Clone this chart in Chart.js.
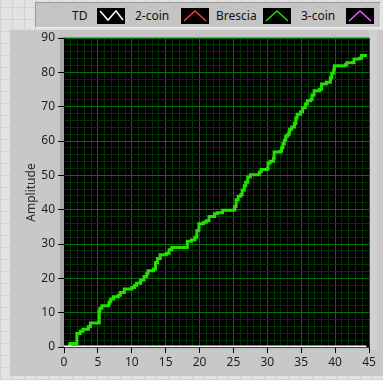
<!DOCTYPE html>
<html>
<head>
<meta charset="utf-8">
<script src="https://cdn.jsdelivr.net/npm/chart.js@4"></script>
<style>
body { margin:0; background:#e2e2e2; }
#wrap { position:relative; width:383px; height:380px; overflow:hidden;
  background-color:#e2e2e2;
  background-image:repeating-linear-gradient(0deg, #d2d2d2 0 1px, transparent 1px 12px),
                   repeating-linear-gradient(90deg, #d2d2d2 0 1px, transparent 1px 12px); }
#frame { position:absolute; left:10px; top:29px; width:373px; height:346px; background:#c8c8c8;
  border-top:1px solid #dcdcdc; }
#plotframe { position:absolute; left:60px; top:30px; width:317px; height:320px; background:#c4c4c4; }
#plotframe .l { position:absolute; left:0; top:7px; width:4px; height:310px; background:#a6a6a6; }
#plotframe .t { position:absolute; left:0; top:7px; width:310px; height:1px; background:#8a8a8a; }
#plotframe .r { position:absolute; left:309px; top:0; width:8px; height:320px; background:#d0d0d0; }
#legend { position:absolute; left:35px; top:2px; width:344px; height:24px; background:#c4c4c4;
  border-top:1px solid #9a9a9a; border-left:1px solid #9a9a9a; border-bottom:1px solid #eeeeee; border-right:1px solid #eeeeee;
  font:12px "Noto Sans", sans-serif; color:#111; }
#legend span { position:absolute; top:4px; }
#legend svg { position:absolute; top:5px; }
canvas { position:absolute; left:0; top:0; }
</style>
</head>
<body>
<div id="wrap">
  <div id="frame"></div>
  <div id="plotframe"><div class="t"></div><div class="l"></div><div class="r"></div></div>
  <div id="legend"></div>
  <canvas id="chart" width="383" height="380"></canvas>
</div>
<script>
// series names and colours as in the legend
var seriesNames = ["TD", "2-coin", "Brescia", "3-coin"];
var seriesColors = ["#ffffff", "#ff3c3c", "#22e000", "#e060ff"];

// TD and 2-coin stay at zero
var tdX = [0, 44.6];
var tdY = [0, 0];
var coin2X = [0, 44.6];
var coin2Y = [0, 0];

// Brescia step curve (x = step position, y = new level)
var bresciaX = [0.6, 0.9, 1.9, 2.4, 2.8, 3.6, 3.9, 5.2, 5.3, 5.6, 6.6, 6.7, 6.9, 7.3, 8.0, 8.3, 8.9,
  10.0, 10.4, 10.7, 11.3, 11.8, 12.2, 12.4, 13.2, 13.5, 13.8, 14.2, 15.1, 15.5, 15.9, 18.2, 18.8, 19.3,
  19.6, 19.9, 20.6, 21.0, 21.4, 22.2, 22.6, 23.4, 25.1, 25.2, 25.4, 25.7, 26.1, 26.3, 26.6, 26.8, 27.1,
  27.5, 28.8, 29.1, 30.0, 30.1, 30.4, 30.9, 31.0, 31.9, 32.1, 32.3, 32.5, 32.7, 33.0, 33.2, 33.3, 33.6,
  34.0, 34.2, 34.4, 34.9, 35.2, 35.6, 35.9, 36.4, 36.6, 36.9, 37.7, 38.0, 38.7, 39.3, 39.5, 39.8, 39.9,
  41.5, 41.7, 42.6, 42.8, 43.6, 43.9, 44.7];
var bresciaY = [0.5, 1.0, 3.9, 4.6, 5.2, 6.0, 7.0, 10.5, 11.3, 12.0, 12.6, 13.2, 14.0, 14.6, 15.1, 15.9, 16.9,
  17.3, 17.9, 18.6, 19.5, 20.5, 21.3, 22.2, 22.7, 24.6, 25.8, 26.9, 27.3, 28.3, 29.0, 30.8, 31.2, 32.0,
  33.9, 35.9, 36.3, 36.8, 38.0, 38.8, 39.1, 39.8, 40.0, 40.9, 42.9, 43.9, 44.4, 45.7, 47.0, 48.0, 49.5,
  50.2, 51.0, 51.7, 52.0, 53.6, 54.1, 54.9, 56.8, 57.0, 58.0, 59.2, 60.2, 61.4, 61.9, 62.6, 63.4, 64.1,
  65.1, 66.7, 67.8, 68.5, 69.7, 70.8, 71.7, 72.1, 73.4, 74.6, 75.1, 76.6, 77.1, 78.4, 79.7, 80.9, 81.9,
  82.2, 82.8, 82.9, 83.9, 84.1, 84.9, 84.9];

var xMax = 45, yMax = 90;

function pts(xs, ys) {
    return xs.map(function (x, i) { return {x: x, y: ys[i]}; });
}

// legend (LabVIEW style: name then plot icon)
var legendPos = [[36, 61], [99, 145], [180, 227], [265, 310]];
var legend = document.getElementById("legend");
seriesNames.forEach(function (name, i) {
    var s = document.createElement("span");
    s.textContent = name;
    s.style.left = legendPos[i][0] + "px";
    legend.appendChild(s);
    var path = i === 0 ? "M3,3 L11,12 L19,3 L26,12" : "M3,13 L14,3 L25,13";
    legend.insertAdjacentHTML("beforeend",
        '<svg width="28" height="16" style="left:' + legendPos[i][1] + 'px"><rect width="28" height="16" fill="#000"/>' +
        '<path d="' + path + '" stroke="' + seriesColors[i] + '" stroke-width="1.5" fill="none"/></svg>');
});

var blackPlot = {
    id: "blackPlot",
    beforeDraw: function (chart) {
        var a = chart.chartArea, c = chart.ctx;
        c.save();
        c.fillStyle = "#000";
        c.fillRect(a.left, a.top, a.right - a.left, a.bottom - a.top);
        c.restore();
    }
};

var tickFont = {family: "Noto Sans", size: 12};

new Chart(document.getElementById("chart"), {
    type: "line",
    data: {
        datasets: [
            {label: seriesNames[0], data: pts(tdX, tdY), borderColor: seriesColors[0], borderWidth: 3, pointRadius: 0},
            {label: seriesNames[1], data: pts(coin2X, coin2Y), borderColor: seriesColors[1], borderWidth: 1.5, pointRadius: 0},
            {label: seriesNames[2], data: pts(bresciaX, bresciaY), borderColor: seriesColors[2], borderWidth: 3,
             pointRadius: 0, stepped: true}
        ]
    },
    options: {
        responsive: false,
        animation: false,
        devicePixelRatio: 1,
        layout: {padding: {top: 38, right: 14, left: 0, bottom: 0}},
        plugins: {legend: {display: false}, tooltip: {enabled: false}},
        scales: {
            x: {
                type: "linear", min: 0, max: xMax,
                ticks: {stepSize: 1, autoSkip: false, maxRotation: 0, padding: 2, color: "#1e1e1e", font: tickFont,
                    callback: function (v) { return v % 5 === 0 ? v : ""; }},
                grid: {
                    color: function (c) { return c.tick && c.tick.value % 5 === 0 ? "#007400" : "#003400"; },
                    tickColor: function (c) { return c.tick && c.tick.value % 5 === 0 ? "#000" : "rgba(0,0,0,0)"; },
                    tickLength: 6
                },
                border: {display: false},
                afterFit: function (s) { s.height = 33; s.paddingLeft = 0; s.paddingRight = 0; }
            },
            y: {
                min: 0, max: yMax,
                ticks: {stepSize: 2, autoSkip: false, padding: 3, color: "#1e1e1e", font: tickFont,
                    callback: function (v) { return v % 10 === 0 ? v : ""; }},
                grid: {
                    color: function (c) { return c.tick && c.tick.value % 10 === 0 ? "#007400" : "#003400"; },
                    tickColor: function (c) { return c.tick && c.tick.value % 10 === 0 ? "#000" : "rgba(0,0,0,0)"; },
                    tickLength: 6
                },
                border: {color: "#000"},
                title: {display: true, text: "Amplitude", color: "#2a2a2a", font: tickFont, padding: {top: 24, bottom: 0}},
                afterFit: function (s) { s.width = 64; s.paddingTop = 0; s.paddingBottom = 0; }
            }
        }
    },
    plugins: [blackPlot]
});
</script>
</body>
</html>
